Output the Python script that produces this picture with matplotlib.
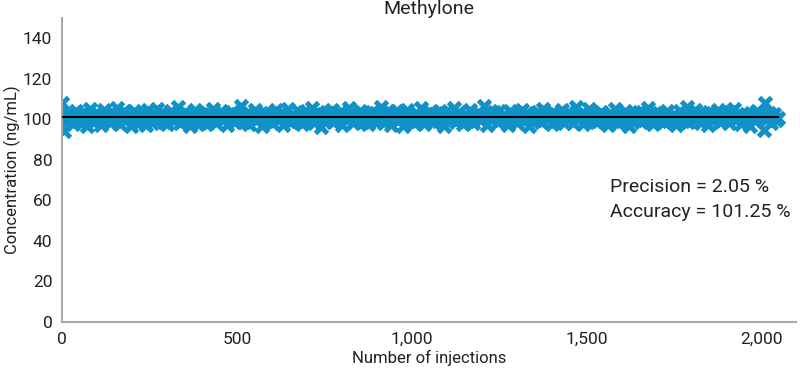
import numpy as np
import matplotlib
matplotlib.use('Agg')
from matplotlib import pyplot as plt
from matplotlib.ticker import FuncFormatter

plt.rcParams['font.family'] = ['Roboto', 'DejaVu Sans']

# Измеренные концентрации (нг/мл), каждая 5-я инъекция
conc = [
    108.2, 94.1, 101.5, 99.8, 103.2, 100.4, 97.9, 102.6, 104.1, 99.2,
    101.9, 98.5, 103.7, 100.1, 96.8, 102.3, 105.2, 100.8, 98.9, 101.4,
    103.0, 99.5, 97.4, 102.8, 104.6, 100.2, 101.1, 98.1, 103.5, 99.9,
    102.0, 105.6, 100.6, 97.7, 101.8, 103.9, 99.0, 100.9, 102.5, 96.9,
    101.2, 104.3, 98.6, 102.1, 100.0, 99.4, 103.3, 101.6, 97.2, 104.8,
    100.5, 98.3, 102.9, 101.0, 105.0, 99.6, 100.3, 103.6, 98.8, 101.7,
    97.5, 102.4, 104.0, 100.7, 99.1, 101.3, 106.1, 98.0, 102.2, 100.1,
    103.8, 99.3, 101.9, 96.5, 102.7, 100.4, 104.5, 99.7, 101.0, 98.4,
    102.6, 100.8, 97.8, 103.1, 101.5, 99.5, 105.3, 100.2, 98.2, 102.0,
    101.4, 104.2, 99.9, 100.6, 97.0, 102.8, 101.1, 103.4, 98.7, 100.0,
    99.8, 102.3, 106.4, 100.9, 98.5, 101.6, 103.7, 97.6, 102.1, 101.2,
    104.7, 99.0, 100.7, 102.5, 96.7, 101.8, 103.0, 99.4, 100.3, 102.9,
    98.1, 101.3, 104.4, 100.5, 99.7, 103.2, 97.3, 102.4, 101.0, 105.1,
    100.2, 98.9, 102.7, 101.5, 99.2, 104.0, 100.8, 97.9, 103.6, 101.9,
    99.6, 102.2, 100.0, 105.7, 98.3, 101.4, 103.8, 100.6, 96.4, 102.6,
    101.1, 99.3, 103.1, 100.4, 104.6, 98.6, 102.0, 101.7, 99.8, 103.4,
    97.1, 102.8, 100.9, 99.5, 105.4, 101.2, 98.0, 103.0, 100.1, 102.3,
    104.1, 100.7, 98.8, 101.6, 102.9, 97.7, 100.3, 103.5, 99.1, 101.8,
    102.5, 99.9, 106.0, 100.2, 98.4, 102.1, 101.4, 104.3, 97.4, 100.8,
    101.0, 103.9, 99.4, 102.6, 100.5, 96.6, 101.9, 104.8, 99.2, 102.2,
    100.6, 98.2, 103.3, 101.3, 99.7, 105.5, 100.0, 97.8, 102.7, 101.5,
    103.6, 100.9, 98.7, 102.4, 101.1, 99.0, 104.2, 100.4, 96.9, 103.1,
    101.7, 99.6, 102.0, 100.2, 105.8, 98.5, 101.2, 103.7, 100.7, 97.5,
    102.8, 101.4, 99.3, 104.5, 100.1, 98.1, 102.3, 101.0, 103.0, 99.8,
    100.3, 106.6, 101.8, 97.2, 102.5, 100.8, 99.5, 103.4, 101.6, 98.9,
    104.0, 100.5, 102.1, 99.1, 101.3, 97.0, 103.9, 100.0, 102.6, 101.1,
    98.3, 102.9, 100.6, 104.7, 99.4, 101.9, 103.2, 96.8, 100.9, 102.2,
    101.5, 99.7, 103.5, 100.2, 98.6, 105.2, 101.0, 102.4, 99.9, 100.4,
    97.6, 103.1, 101.7, 99.2, 102.7, 100.7, 104.4, 98.4, 101.3, 103.8,
    100.1, 102.0, 98.0, 101.6, 106.2, 99.6, 100.8, 103.3, 97.9, 102.5,
    101.2, 104.9, 99.0, 100.5, 102.8, 98.7, 101.9, 100.3, 103.6, 99.5,
    102.1, 100.0, 97.3, 103.0, 101.4, 99.8, 105.0, 100.6, 98.2, 102.3,
    99.3, 101.8, 104.3, 100.9, 96.5, 102.6, 101.1, 103.7, 99.7, 100.2,
    103.4, 98.8, 101.5, 102.2, 100.4, 105.6, 99.1, 101.0, 97.7, 102.9,
    100.7, 103.2, 99.4, 101.7, 98.5, 102.4, 104.1, 100.1, 101.3, 99.9,
    102.0, 97.4, 100.8, 103.9, 101.6, 99.2, 102.7, 106.3, 98.9, 100.5,
    101.4, 99.6, 104.6, 100.0, 102.5, 98.1, 101.2, 103.1, 100.3, 97.1,
    103.5, 101.9, 99.0, 102.1, 100.6, 104.8, 98.6, 101.5, 99.8, 102.8,
    100.2, 98.3, 103.6, 101.1, 105.3, 99.5, 100.9, 102.3, 97.8, 101.8,
    99.7, 102.6, 100.4, 96.7, 103.0, 101.3, 99.3, 104.2, 100.8, 102.0,
    101.6, 94.8, 108.0, 100.1, 103.3, 98.4, 101.0, 102.4, 99.9, 100.6,
]
injections = np.arange(1, 5 * len(conc) + 1, 5)

precision = 2.05   # %
accuracy = 101.25  # %
title = 'Methylone'

fig = plt.figure(figsize=(8, 3.74), dpi=100)
ax = fig.add_axes([0.0775, 0.139, 0.918, 0.813])

ax.plot(injections, conc, ls='none', marker='x', ms=8.5, mew=3.6,
        color='#0f92c8', zorder=2)
ax.plot([injections[0], injections[-1]], [accuracy, accuracy],
        color='black', lw=1.5, zorder=3)

ax.set_xlim(0, 2100)
ax.set_ylim(0, 150)
ax.set_xticks([0, 500, 1000, 1500, 2000])
ax.set_yticks(np.arange(0, 141, 20))
ax.xaxis.set_major_formatter(FuncFormatter(lambda v, p: f'{v:,.0f}'))
ax.tick_params(length=0, labelsize=12.5, pad=7, colors='#222222')

for s in ['top', 'right']:
    ax.spines[s].set_visible(False)
for s in ['left', 'bottom']:
    ax.spines[s].set_color('#aaaaaa')
    ax.spines[s].set_linewidth(1.5)

ax.set_title(title, fontsize=14, pad=3, color='#222222')
ax.set_xlabel('Number of injections', fontsize=12, labelpad=2, color='#222222')
ax.set_ylabel('Concentration (ng/mL)', fontsize=12, color='#222222')
ax.yaxis.set_label_coords(-0.056, 0.5)

ax.text(1566, 66.8, f'Precision = {precision:.2f} %', fontsize=14,
        va='center', ha='left', color='#222222')
ax.text(1566, 54.5, f'Accuracy = {accuracy:.2f} %', fontsize=14,
        va='center', ha='left', color='#222222')

fig.savefig('out.png', dpi=100)
